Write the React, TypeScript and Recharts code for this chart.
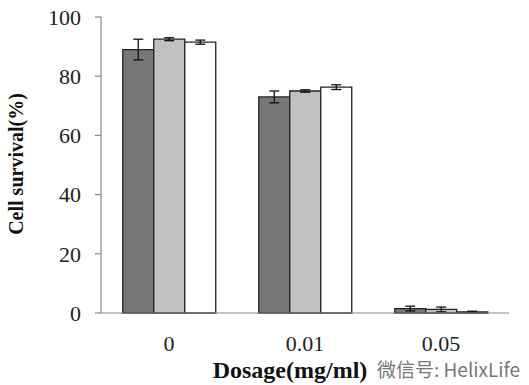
import React from 'react';
import { BarChart, Bar, XAxis, YAxis, ErrorBar } from 'recharts';

const categories = ['0', '0.01', '0.05'];
const seriesA = [89, 73, 1.5];
const seriesB = [92.5, 75, 1.2];
const seriesC = [91.5, 76.3, 0.4];
const errA = [3.5, 2, 0.8];
const errB = [0.5, 0.4, 0.8];
const errC = [0.7, 0.8, 0.2];
const yTicks = [0, 20, 40, 60, 80, 100];

const data = categories.map((c, i) => ({
  cat: c,
  idx: i,
  a: seriesA[i],
  b: seriesB[i],
  c: seriesC[i],
  ea: errA[i],
  eb: errB[i],
  ec: errC[i],
}));

const serif = '"Liberation Serif", "DejaVu Serif", serif';

export default function App() {
  return (
    <div style={{ position: 'absolute', left: 0, top: 0, width: 529, height: 385, background: '#fff' }}>
      <BarChart
        width={529}
        height={385}
        data={data}
        margin={{ top: 17, right: 20, bottom: 42, left: 0 }}
        barCategoryGap="16%"
        barGap={0}
      >
        <XAxis
          xAxisId="cat"
          dataKey="cat"
          height={30}
          axisLine={{ stroke: '#888', strokeWidth: 1.2 }}
          tickLine={false}
          tick={{ fontFamily: serif, fontSize: 22, fill: '#222' }}
          tickMargin={16}
        />
        <XAxis
          xAxisId="bound"
          type="number"
          domain={[0, 3]}
          ticks={[0, 1, 2, 3]}
          axisLine={false}
          tickLine={{ stroke: '#888', strokeWidth: 1.2 }}
          tickSize={6}
          tick={false}
          height={0}
        />
        <YAxis
          domain={[0, 100]}
          ticks={yTicks}
          width={101}
          axisLine={{ stroke: '#888', strokeWidth: 1.2 }}
          tickLine={{ stroke: '#888', strokeWidth: 1.2 }}
          tickSize={6}
          tickMargin={14}
          tick={{ fontFamily: serif, fontSize: 22, fill: '#222' }}
        />
        <Bar xAxisId="cat" dataKey="a" fill="#777777" stroke="#222" strokeWidth={1.3} isAnimationActive={false}>
          <ErrorBar dataKey="ea" width={5} stroke="#111" strokeWidth={1.3} />
        </Bar>
        <Bar xAxisId="cat" dataKey="b" fill="#c0c0c0" stroke="#222" strokeWidth={1.3} isAnimationActive={false}>
          <ErrorBar dataKey="eb" width={5} stroke="#111" strokeWidth={1.3} />
        </Bar>
        <Bar xAxisId="cat" dataKey="c" fill="#ffffff" stroke="#222" strokeWidth={1.3} isAnimationActive={false}>
          <ErrorBar dataKey="ec" width={5} stroke="#111" strokeWidth={1.3} />
        </Bar>
        <text
          x={16}
          y={164}
          transform="rotate(-90 16 164)"
          textAnchor="middle"
          dominantBaseline="central"
          fontFamily={serif}
          fontWeight="bold"
          fontSize={20}
          fill="#111"
        >
          Cell survival(%)
        </text>
        <text
          x={290}
          y={370}
          textAnchor="middle"
          dominantBaseline="central"
          fontFamily={serif}
          fontWeight="bold"
          fontSize={24}
          fill="#111"
        >
          Dosage(mg/ml)
        </text>
        <text
          x={520}
          y={368}
          textAnchor="end"
          dominantBaseline="central"
          fontFamily='"Noto Sans CJK SC", "Noto Sans", sans-serif'
          fontSize={19}
          fill="#777"
        >
          微信号: HelixLife
        </text>
      </BarChart>
    </div>
  );
}
